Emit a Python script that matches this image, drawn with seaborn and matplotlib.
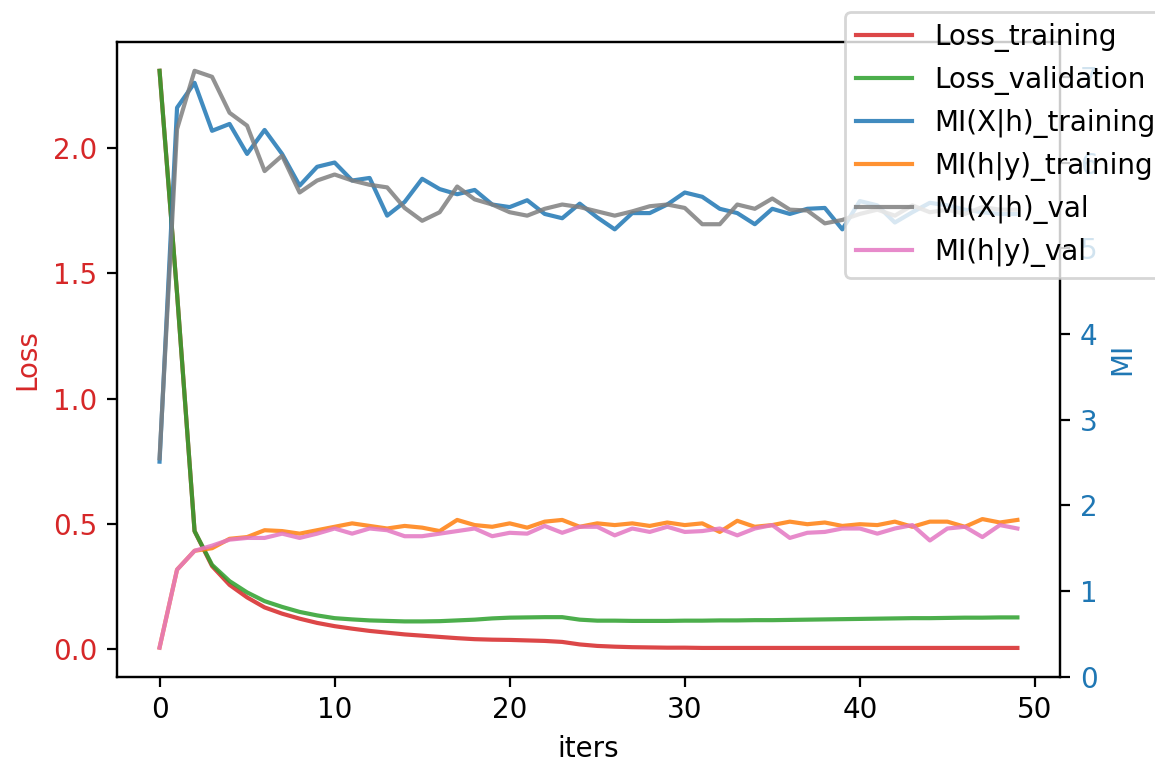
import matplotlib
matplotlib.use("Agg")
import matplotlib.pyplot as plt
import seaborn as sns
import numpy as np

# ==========================================
# data
# ==========================================
iters = list(range(50))

loss_training = [2.31, 1.42, 0.47, 0.33, 0.255, 0.205, 0.165, 0.14, 0.12, 0.103,
                 0.09, 0.08, 0.071, 0.064, 0.057, 0.052, 0.047, 0.042, 0.038, 0.036,
                 0.035, 0.033, 0.031, 0.027, 0.017, 0.011, 0.008, 0.006, 0.005, 0.004,
                 0.004, 0.003, 0.003, 0.003, 0.003, 0.003, 0.003, 0.003, 0.003, 0.003,
                 0.003, 0.003, 0.003, 0.003, 0.003, 0.003, 0.003, 0.003, 0.003, 0.003]

loss_validation = [2.31, 1.42, 0.47, 0.335, 0.27, 0.225, 0.19, 0.167, 0.147, 0.133,
                   0.122, 0.117, 0.113, 0.111, 0.109, 0.109, 0.11, 0.113, 0.116, 0.121,
                   0.124, 0.125, 0.126, 0.126, 0.116, 0.112, 0.112, 0.111, 0.111, 0.111,
                   0.112, 0.112, 0.113, 0.113, 0.114, 0.114, 0.115, 0.116, 0.117, 0.118,
                   0.119, 0.12, 0.121, 0.122, 0.122, 0.123, 0.124, 0.124, 0.125, 0.125]

mi_xh_training = [2.51, 6.64, 6.93, 6.37, 6.45, 6.10, 6.38, 6.10, 5.73, 5.95,
                  6.00, 5.79, 5.82, 5.38, 5.54, 5.81, 5.69, 5.63, 5.68, 5.51,
                  5.48, 5.56, 5.40, 5.35, 5.52, 5.36, 5.22, 5.41, 5.41, 5.51,
                  5.65, 5.60, 5.46, 5.41, 5.28, 5.46, 5.40, 5.46, 5.47, 5.22,
                  5.55, 5.50, 5.30, 5.42, 5.53, 5.50, 5.45, 5.42, 5.40, 5.40]

mi_hy_training = [0.34, 1.25, 1.47, 1.50, 1.61, 1.63, 1.71, 1.70, 1.67, 1.71,
                  1.75, 1.79, 1.76, 1.73, 1.76, 1.74, 1.70, 1.83, 1.77, 1.75,
                  1.79, 1.74, 1.81, 1.83, 1.75, 1.79, 1.77, 1.79, 1.76, 1.80,
                  1.77, 1.79, 1.69, 1.82, 1.75, 1.77, 1.81, 1.78, 1.80, 1.76,
                  1.78, 1.77, 1.81, 1.75, 1.81, 1.81, 1.75, 1.84, 1.80, 1.83]

mi_xh_val = [2.55, 6.39, 7.07, 7.00, 6.58, 6.43, 5.90, 6.08, 5.65, 5.79,
             5.86, 5.79, 5.74, 5.71, 5.47, 5.32, 5.42, 5.72, 5.57, 5.51,
             5.42, 5.38, 5.46, 5.51, 5.48, 5.43, 5.38, 5.43, 5.49, 5.51,
             5.47, 5.28, 5.28, 5.51, 5.46, 5.58, 5.45, 5.44, 5.29, 5.33,
             5.40, 5.45, 5.38, 5.50, 5.42, 5.45, 5.40, 5.48, 5.45, 5.45]

mi_hy_val = [0.34, 1.25, 1.47, 1.53, 1.60, 1.62, 1.62, 1.67, 1.62, 1.67,
             1.73, 1.67, 1.73, 1.71, 1.64, 1.64, 1.67, 1.70, 1.73, 1.64,
             1.68, 1.67, 1.76, 1.68, 1.75, 1.75, 1.65, 1.73, 1.69, 1.75,
             1.69, 1.70, 1.73, 1.65, 1.73, 1.77, 1.62, 1.68, 1.69, 1.73,
             1.73, 1.67, 1.73, 1.77, 1.59, 1.73, 1.75, 1.63, 1.77, 1.73]

# ==========================================
# plot
# ==========================================
DPI = 200
fig, ax = plt.subplots(figsize=(1155 / DPI, 763 / DPI), dpi=DPI)
fig.subplots_adjust(left=0.101, right=0.918, bottom=0.113, top=0.945)
ax2 = ax.twinx()

lw = 1.5
a = 0.85
sns.lineplot(x=iters, y=loss_training, ax=ax, color="tab:red", lw=lw, alpha=a, label="Loss_training")
sns.lineplot(x=iters, y=loss_validation, ax=ax, color="tab:green", lw=lw, alpha=a, label="Loss_validation")
sns.lineplot(x=iters, y=mi_xh_training, ax=ax2, color="tab:blue", lw=lw, alpha=a, label="MI(X|h)_training")
sns.lineplot(x=iters, y=mi_hy_training, ax=ax2, color="tab:orange", lw=lw, alpha=a, label="MI(h|y)_training")
sns.lineplot(x=iters, y=mi_xh_val, ax=ax2, color="tab:gray", lw=lw, alpha=a, label="MI(X|h)_val")
sns.lineplot(x=iters, y=mi_hy_val, ax=ax2, color="tab:pink", lw=lw, alpha=a, label="MI(h|y)_val")

h1, l1 = ax.get_legend_handles_labels()
h2, l2 = ax2.get_legend_handles_labels()
ax.get_legend().remove()
ax2.get_legend().remove()

ax.set_xlabel("iters")
ax.set_ylabel("Loss", color="tab:red")
ax.tick_params(axis="y", labelcolor="tab:red")
ax2.set_ylabel("MI", color="tab:blue")
ax2.tick_params(axis="y", labelcolor="tab:blue")
ax2.set_ylim(bottom=0)  # MI axis starts at 0 in the reference

fig.legend(h1 + h2, l1 + l2, loc="upper left",
           bbox_to_anchor=(845 / 1155, 1 - 12 / 763), borderaxespad=0)

fig.savefig("out.png", dpi=DPI)
